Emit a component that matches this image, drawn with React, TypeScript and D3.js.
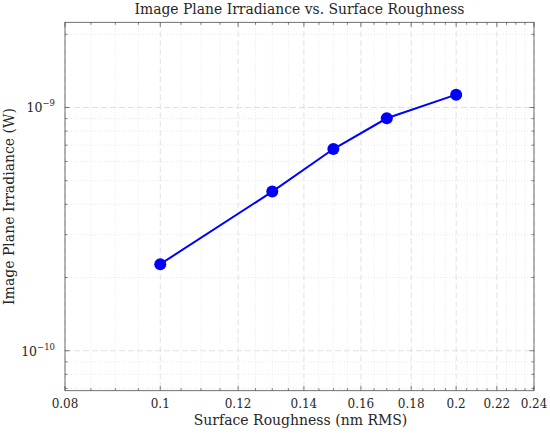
import React from "react";
import * as d3 from "d3";

const roughness = [0.1, 0.13, 0.15, 0.17, 0.2];
const irradiance = [2.27e-10, 4.51e-10, 6.75e-10, 9.03e-10, 1.129e-9];
const xTicks = [0.08, 0.1, 0.12, 0.14, 0.16, 0.18, 0.2, 0.22, 0.24];
const xTickLabels = ["0.08", "0.1", "0.12", "0.14", "0.16", "0.18", "0.2", "0.22", "0.24"];
const yTicks = [1e-10, 1e-9];
const yTickExponents = ["−10", "−9"];
const xDomain = [0.08, 0.24];
const yDomain = [6.85e-11, 2.24e-9];

const W = 550, H = 438;
const M = { left: 65, top: 22.3, right: 534, bottom: 390.7 };
const FONT = "'DejaVu Serif', serif";

export default function App() {
  const x = d3.scaleLog().domain(xDomain).range([M.left, M.right]);
  const y = d3.scaleLog().domain(yDomain).range([M.bottom, M.top]);

  const xMinor = d3.range(0.085, 0.24, 0.005).map((v) => +v.toFixed(3)).filter((v) => !xTicks.some((t) => Math.abs(t - v) < 1e-9));
  const yMinor: number[] = [];
  [1e-11, 1e-10, 1e-9].forEach((dec) => {
    for (let k = 2; k <= 9; k++) {
      const v = k * dec;
      if (v >= yDomain[0] && v <= yDomain[1]) yMinor.push(v);
    }
  });

  const line = d3.line<number>().x((_, i) => x(roughness[i])).y((d) => y(d));
  const ink = "#262626";
  const grid = "#d9d9d9";

  return (
    <svg width={W} height={H} style={{ position: "absolute", left: 0, top: 0, background: "#fff" }} fontFamily={FONT}>
      <rect x={0} y={0} width={W} height={H} fill="#fff" />
      {xMinor.map((v) => (
        <line key={"xm" + v} x1={x(v)} x2={x(v)} y1={M.top} y2={M.bottom} stroke={grid} strokeWidth={0.6} strokeDasharray="1,2" />
      ))}
      {yMinor.map((v) => (
        <line key={"ym" + v} x1={M.left} x2={M.right} y1={y(v)} y2={y(v)} stroke={grid} strokeWidth={0.6} strokeDasharray="1,2" />
      ))}
      {xTicks.map((v) => (
        <line key={"xg" + v} x1={x(v)} x2={x(v)} y1={M.top} y2={M.bottom} stroke={grid} strokeWidth={0.8} strokeDasharray="6,3" />
      ))}
      {yTicks.map((v) => (
        <line key={"yg" + v} x1={M.left} x2={M.right} y1={y(v)} y2={y(v)} stroke={grid} strokeWidth={0.8} strokeDasharray="6,3" />
      ))}
      {xMinor.map((v) => (
        <g key={"xmt" + v} stroke={ink} strokeWidth={0.6}>
          <line x1={x(v)} x2={x(v)} y1={M.bottom} y2={M.bottom - 2.5} />
          <line x1={x(v)} x2={x(v)} y1={M.top} y2={M.top + 2.5} />
        </g>
      ))}
      {xTicks.map((v) => (
        <g key={"xt" + v} stroke={ink} strokeWidth={0.6}>
          <line x1={x(v)} x2={x(v)} y1={M.bottom} y2={M.bottom - 4.5} />
          <line x1={x(v)} x2={x(v)} y1={M.top} y2={M.top + 4.5} />
        </g>
      ))}
      {yMinor.map((v) => (
        <g key={"ymt" + v} stroke={ink} strokeWidth={0.6}>
          <line x1={M.left} x2={M.left + 2.5} y1={y(v)} y2={y(v)} />
          <line x1={M.right} x2={M.right - 2.5} y1={y(v)} y2={y(v)} />
        </g>
      ))}
      {yTicks.map((v) => (
        <g key={"yt" + v} stroke={ink} strokeWidth={0.6}>
          <line x1={M.left} x2={M.left + 4.5} y1={y(v)} y2={y(v)} />
          <line x1={M.right} x2={M.right - 4.5} y1={y(v)} y2={y(v)} />
        </g>
      ))}
      <rect x={M.left} y={M.top} width={M.right - M.left} height={M.bottom - M.top} fill="none" stroke="#4d4d4d" strokeWidth={0.8} />
      <path d={line(irradiance) || ""} fill="none" stroke="#0000ff" strokeWidth={2} />
      {irradiance.map((v, i) => (
        <circle key={"p" + i} cx={x(roughness[i])} cy={y(v)} r={6} fill="#0000ff" />
      ))}
      {xTicks.map((v, i) => (
        <text key={"xl" + v} x={x(v)} y={408} textAnchor="middle" fontSize={12} fill={ink}>
          {xTickLabels[i]}
        </text>
      ))}
      {yTicks.map((v, i) => (
        <text key={"yl" + v} x={55} y={y(v) + 5} textAnchor="end" fontSize={12.5} fill={ink}>
          10
          <tspan fontSize={8.5} dy={-6}>{yTickExponents[i]}</tspan>
        </text>
      ))}
      <text x={(M.left + M.right) / 2 + 1} y={425} textAnchor="middle" fontSize={14} fill={ink}>
        Surface Roughness (nm RMS)
      </text>
      <text transform={`translate(13.5, ${(M.top + M.bottom) / 2}) rotate(-90)`} textAnchor="middle" fontSize={14} fill={ink}>
        Image Plane Irradiance (W)
      </text>
      <text x={(M.left + M.right) / 2} y={14} textAnchor="middle" fontSize={13.9} fill={ink}>
        Image Plane Irradiance vs. Surface Roughness
      </text>
    </svg>
  );
}
